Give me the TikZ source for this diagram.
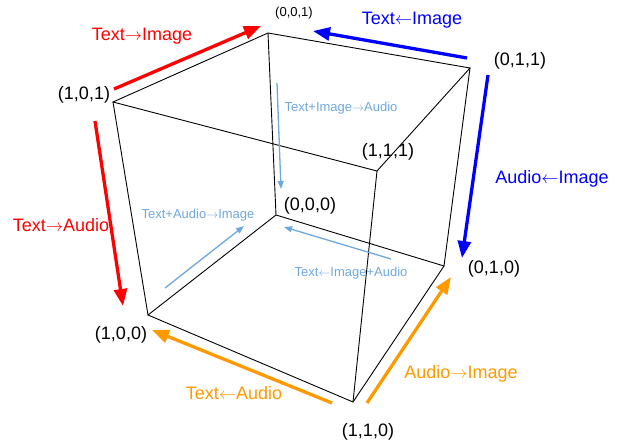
\documentclass[tikz,border=0pt]{standalone}
\usepackage{fontspec}
\setmainfont{Liberation Sans}
\usetikzlibrary{arrows,arrows.meta,positioning,calc}
\definecolor{tred}{HTML}{FF0000}
\definecolor{tblue}{HTML}{0000FF}
\definecolor{torange}{HTML}{FF9900}
\definecolor{tlight}{HTML}{6FA8DC}
\newcommand{\rarr}{$\rightarrow$}
\newcommand{\larr}{$\leftarrow$}

\begin{document}
\begin{tikzpicture}[x=1pt, y=-1pt, >=stealth]
  % styles
  \tikzstyle{edge}=[draw=black, line width=0.9pt];
  \tikzstyle{big}=[line width=3.3pt, -{Triangle[length=17pt,width=13pt]}];
  \tikzstyle{small}=[line width=1.3pt, draw=tlight, -{Triangle[length=8pt,width=6pt]}];
  \tikzstyle{vlabel}=[inner sep=0pt, font=\fontsize{18}{20}\selectfont];
  \tikzstyle{slabel}=[inner sep=0pt, font=\fontsize{13}{15}\selectfont];
  \useasboundingbox (0,0) rectangle (622,446);

  %==================== CUBE ====================
  \coordinate (v001) at (268,33);
  \coordinate (v101) at (113,102);
  \coordinate (v011) at (470,68);
  \coordinate (v111) at (377,171);
  \coordinate (v000) at (276,215);
  \coordinate (v100) at (148,315);
  \coordinate (v010) at (444,266);
  \coordinate (v110) at (353,402);
  % edges
  \draw[edge] (v001) -- (v101) -- (v111) -- (v011) -- cycle;
  \draw[edge] (v000) -- (v100) -- (v110) -- (v010) -- cycle;
  \draw[edge] (v001) -- (v000);
  \draw[edge] (v101) -- (v100);
  \draw[edge] (v111) -- (v110);
  \draw[edge] (v011) -- (v010);

  % vertex labels
  \node[slabel] (l001) at (294,13) {(0,0,1)};
  \node[vlabel] (l101) at (84,95) {(1,0,1)};
  \node[vlabel] (l011) at (520,61) {(0,1,1)};
  \node[vlabel] (l111) at (388,152) {(1,1,1)};
  \node[vlabel] (l000) at (310,206) {(0,0,0)};
  \node[vlabel] (l100) at (121,335) {(1,0,0)};
  \node[vlabel] (l010) at (494,269) {(0,1,0)};
  \node[vlabel] (l110) at (368,432) {(1,1,0)};

  %==================== BIG ARROWS ====================
  \coordinate (ti_s) at (114,89);  \coordinate (ti_e) at (261,26);
  \coordinate (ta_s) at (95,121);  \coordinate (ta_e) at (123,306);
  \coordinate (it_s) at (467,58);  \coordinate (it_e) at (313,31);
  \coordinate (ia_s) at (488,75);  \coordinate (ia_e) at (462,258);
  \coordinate (at_s) at (332,403); \coordinate (at_e) at (152,330);
  \coordinate (ai_s) at (367,403); \coordinate (ai_e) at (451,277);
  \draw[big, draw=tred, fill=tred] (ti_s) -- (ti_e);
  \draw[big, draw=tred, fill=tred] (ta_s) -- (ta_e);
  \draw[big, draw=tblue, fill=tblue] (it_s) -- (it_e);
  \draw[big, draw=tblue, fill=tblue] (ia_s) -- (ia_e);
  \draw[big, draw=torange, fill=torange] (at_s) -- (at_e);
  \draw[big, draw=torange, fill=torange] (ai_s) -- (ai_e);

  \node[vlabel, text=tred] (lti) at (142,36) {Text\rarr Image};
  \node[vlabel, text=tred] (lta) at (61,225) {Text\rarr Audio};
  \node[vlabel, text=tblue] (lit) at (412,20) {Text\larr Image};
  \node[vlabel, text=tblue] (lia) at (552,179) {Audio\larr Image};
  \node[vlabel, text=torange] (lat) at (234,393) {Text\larr Audio};
  \node[vlabel, text=torange] (lai) at (461,374) {Audio\rarr Image};

  %==================== SMALL ARROWS ====================
  \coordinate (tia_s) at (277,83);  \coordinate (tia_e) at (281,189);
  \coordinate (tai_s) at (165,288); \coordinate (tai_e) at (244,226);
  \coordinate (tma_s) at (391,259); \coordinate (tma_e) at (284,227);
  \draw[small, fill=tlight] (tia_s) -- (tia_e);
  \draw[small, fill=tlight] (tai_s) -- (tai_e);
  \draw[small, fill=tlight] (tma_s) -- (tma_e);

  \node[slabel, text=tlight] (ltia) at (341,108) {Text+Image\rarr Audio};
  \node[slabel, text=tlight] (ltai) at (198,215) {Text+Audio\rarr Image};
  \node[slabel, text=tlight] (ltma) at (351,273) {Text\larr Image+Audio};
\end{tikzpicture}
\end{document}
